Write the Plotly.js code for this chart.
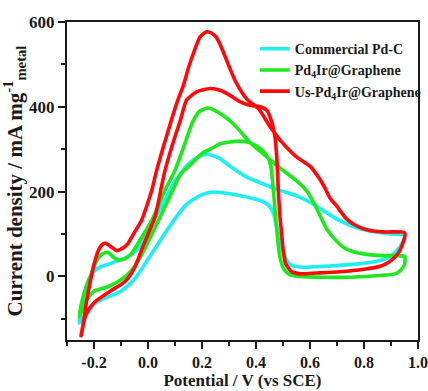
<!DOCTYPE html>
<html>
<head>
<meta charset="utf-8">
<script src="https://cdn.plot.ly/plotly-3.0.1.min.js"></script>
<style>html,body{margin:0;padding:0;background:#fff;}#chart{width:428px;height:391px;}</style>
</head>
<body>
<div id="chart"></div>
<script>
// Series names
const seriesNames = ["Commercial Pd-C", "Pd<sub>4</sub>Ir@Graphene", "Us-Pd<sub>4</sub>Ir@Graphene"];

// Commercial Pd-C: forward scan then reverse scan (potential V, current mA/mg)
const pdcX = [-0.255,-0.25,-0.24,-0.227,-0.203,-0.178,-0.15,-0.122,-0.079,-0.042,0.0,0.05,0.1,0.15,0.19,0.22,0.26,0.304,0.366,0.427,0.489,0.551,0.6,0.65,0.7,0.75,0.8,0.85,0.9,0.948,
              0.952,0.94,0.933,0.896,0.834,0.711,0.6,0.563,0.526,0.507,0.495,0.485,0.475,0.465,0.446,0.415,0.366,0.304,0.24,0.19,0.14,0.08,0.02,-0.048,-0.1,-0.166,-0.2,-0.215,-0.24,-0.255];
const pdcY = [-110,-90,-55,-25,10,22,28,35,45,62,110,165,225,265,283,288,280,260,234,218,203,190,175,155,135,120,110,104,100,98,
              90,78,69,46,34,26,22,22,28,46,70,95,120,148,168,179,187,195,199,190,168,118,60,-5,-35,-53,-65,-80,-100,-110];

// Pd4Ir@Graphene
const pdirX = [-0.255,-0.245,-0.23,-0.215,-0.196,-0.178,-0.16,-0.147,-0.125,-0.105,-0.085,-0.06,-0.035,0.014,0.063,0.1,0.132,0.168,0.193,0.222,0.267,0.316,0.378,0.44,0.5,0.55,0.59,0.62,0.662,0.7,0.723,0.76,0.81,0.87,0.946,
               0.952,0.95,0.935,0.915,0.86,0.75,0.65,0.563,0.525,0.51,0.501,0.489,0.483,0.477,0.47,0.462,0.455,0.446,0.43,0.415,0.378,0.34,0.304,0.267,0.242,0.2,0.16,0.12,0.075,0.03,-0.02,-0.06,-0.1,-0.15,-0.2,-0.227,-0.245,-0.255];
const pdirY = [-95,-60,-25,-2,30,48,56,56,44,39,42,55,80,132,203,250,305,368,390,397,384,360,316,282,250,226,200,166,112,82,69,58,52,49,48,
               45,28,14,6,2,-2,-2,0,4,12,20,45,70,110,160,220,260,278,293,302,315,319,317,313,304,290,265,240,180,120,55,15,-8,-25,-35,-55,-80,-95];

// Us-Pd4Ir@Graphene
const usX = [-0.248,-0.24,-0.227,-0.213,-0.2,-0.184,-0.168,-0.157,-0.135,-0.116,-0.095,-0.076,-0.05,-0.024,0.0,0.014,0.032,0.06,0.085,0.11,0.131,0.15,0.168,0.193,0.217,0.235,0.254,0.272,0.291,0.31,0.328,0.366,0.41,0.45,0.49,0.55,0.6,0.625,0.65,0.674,0.7,0.736,0.77,0.81,0.87,0.948,
             0.952,0.945,0.93,0.915,0.89,0.86,0.8,0.71,0.625,0.563,0.53,0.51,0.501,0.495,0.489,0.483,0.477,0.47,0.458,0.44,0.415,0.372,0.341,0.304,0.267,0.23,0.18,0.143,0.12,0.1,0.063,0.051,0.026,-0.02,-0.05,-0.085,-0.14,-0.2,-0.23,-0.248];
const usY = [-140,-112,-57,-10,28,61,76,78,69,61,66,76,104,132,175,203,250,312,365,415,450,492,526,565,577,574,563,540,510,480,455,418,395,355,321,282,260,240,215,185,165,135,120,110,105,104,
             100,80,58,46,33,24,17,11,8,6,12,30,61,101,140,200,280,330,365,392,400,404,412,427,439,443,435,416,368,330,250,215,140,69,20,-12,-35,-62,-90,-140];

const colors = ["#1CF0F5", "#1EE81E", "#FF0A0A"];
const xs = [pdcX, pdirX, usX];
const ys = [pdcY, pdirY, usY];

const traces = seriesNames.map((n, i) => ({
  x: xs[i], y: ys[i], name: n, type: "scatter", mode: "lines",
  line: {color: colors[i], width: 3.6, shape: "spline", smoothing: 0.6}
}));

const serif = "Liberation Serif, Times New Roman, serif";
const ink = "#1a1a1a";
const layout = {
  width: 428, height: 391,
  margin: {l: 67, r: 10, t: 22, b: 51, autoexpand: false},
  paper_bgcolor: "#fff", plot_bgcolor: "#fff",
  showlegend: true,
  legend: {x: 0.535, y: 0.965, xanchor: "left", yanchor: "top", bgcolor: "rgba(0,0,0,0)",
           font: {family: serif, size: 14, color: ink, weight: "bold"}, itemwidth: 30, tracegroupgap: 0},
  xaxis: {
    range: [-0.3, 1.0], tickvals: [-0.2, 0.0, 0.2, 0.4, 0.6, 0.8, 1.0],
    ticktext: ["-0.2", "0.0", "0.2", "0.4", "0.6", "0.8", "1.0"],
    automargin: false, ticklabeloverflow: "allow",
    ticks: "outside", ticklen: 7, tickwidth: 2, tickcolor: ink,
    minor: {dtick: 0.1, tick0: 0, ticks: "outside", ticklen: 4, tickwidth: 2, tickcolor: ink},
    showline: true, linecolor: ink, linewidth: 2, mirror: true,
    showgrid: false, zeroline: false,
    tickfont: {family: serif, size: 16, color: ink, weight: "bold"},
    title: {text: "Potential / V (vs SCE)", font: {family: serif, size: 17, color: ink, weight: "bold"}, standoff: 4}
  },
  yaxis: {
    range: [-150, 600], tickvals: [0, 200, 400, 600],
    automargin: false, ticklabeloverflow: "allow",
    ticks: "outside", ticklen: 7, tickwidth: 2, tickcolor: ink,
    minor: {dtick: 100, tick0: 0, ticks: "outside", ticklen: 4, tickwidth: 2, tickcolor: ink},
    showline: true, linecolor: ink, linewidth: 2, mirror: true,
    showgrid: false, zeroline: false,
    tickfont: {family: serif, size: 17, color: ink, weight: "bold"},
    title: {text: "Current density / mA mg<sup>-1</sup><sub>metal</sub>", font: {family: serif, size: 21, color: ink, weight: "bold"}, standoff: 0}
  }
};

Plotly.newPlot("chart", traces, layout, {staticPlot: true, displayModeBar: false});
</script>
</body>
</html>
